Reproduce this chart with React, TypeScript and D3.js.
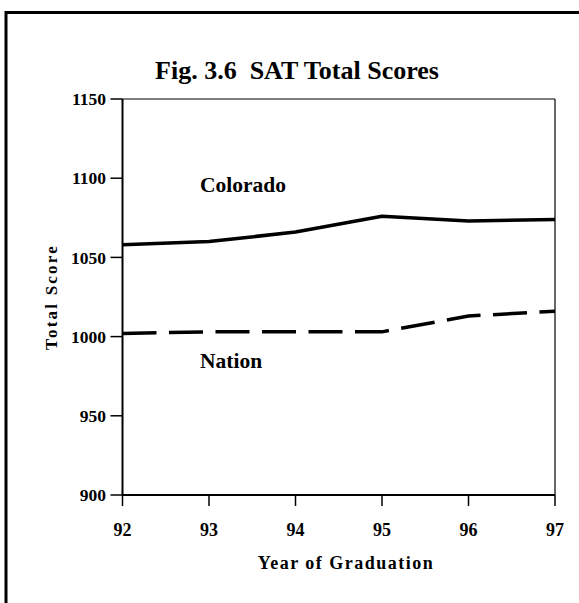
import React from "react";
import * as d3 from "d3";

const years = ["92", "93", "94", "95", "96", "97"];
const colorado = [1058, 1060, 1066, 1076, 1073, 1074];
const nation = [1002, 1003, 1003, 1003, 1013, 1016];
const yTicks = [900, 950, 1000, 1050, 1100, 1150];

const W = 579;
const H = 603;
const left = 122.5;
const right = 555;
const top = 99;
const bottom = 495;
const FONT = "'Liberation Serif', 'Times New Roman', serif";

export default function App() {
  const x = d3.scalePoint<string>().domain(years).range([left, right]);
  const y = d3.scaleLinear().domain([900, 1150]).range([bottom, top]);
  const line = d3
    .line<number>()
    .x((_, i) => x(years[i]) as number)
    .y((d) => y(d));

  return (
    <svg
      width={W}
      height={H}
      style={{ position: "absolute", left: 0, top: 0, background: "#fff" }}
      fontFamily={FONT}
      fontWeight="bold"
    >
      <rect x={0} y={0} width={W} height={H} fill="#fff" />
      {/* outer frame */}
      <rect x={6} y={12.5} width={700} height={700} fill="none" stroke="#000" strokeWidth={3} />

      {/* title */}
      <text x={297} y={79} textAnchor="middle" fontSize={26}>
        Fig. 3.6{"\u00a0\u00a0"}SAT Total Scores
      </text>

      {/* plot box */}
      <line x1={left} x2={right} y1={top} y2={top} stroke="#000" strokeWidth={1.2} />
      <line x1={right} x2={right} y1={top} y2={bottom} stroke="#000" strokeWidth={1.2} />
      <line x1={left} x2={left} y1={top} y2={bottom} stroke="#000" strokeWidth={2} />
      <line x1={left} x2={right} y1={bottom} y2={bottom} stroke="#000" strokeWidth={2} />

      {/* y ticks */}
      {yTicks.map((t) => (
        <g key={t}>
          <line x1={left - 12} x2={left} y1={y(t)} y2={y(t)} stroke="#000" strokeWidth={1.5} />
          <text x={106} y={y(t)} dy="0.35em" textAnchor="end" fontSize={17.5}>
            {t}
          </text>
        </g>
      ))}

      {/* x ticks */}
      {years.map((yr) => (
        <g key={yr}>
          <line x1={x(yr)} x2={x(yr)} y1={bottom} y2={bottom + 11} stroke="#000" strokeWidth={1.5} />
          <text x={x(yr)} y={536} textAnchor="middle" fontSize={18}>
            {yr}
          </text>
        </g>
      ))}

      {/* axis titles */}
      <text x={346} y={569} textAnchor="middle" fontSize={18} letterSpacing={1.5}>
        Year of Graduation
      </text>
      <text
        transform={`translate(57,297) rotate(-90)`}
        textAnchor="middle"
        fontSize={17}
        letterSpacing={2.2}
      >
        Total Score
      </text>

      {/* series */}
      <path d={line(colorado) ?? ""} fill="none" stroke="#000" strokeWidth={3.5} strokeLinejoin="round" />
      <path
        d={line(nation) ?? ""}
        fill="none"
        stroke="#000"
        strokeWidth={3.5}
        strokeDasharray="34 12.5"
      />

      {/* series labels */}
      <text x={200} y={192} fontSize={21.5}>
        Colorado
      </text>
      <text x={200} y={368} fontSize={21.5}>
        Nation
      </text>
    </svg>
  );
}
